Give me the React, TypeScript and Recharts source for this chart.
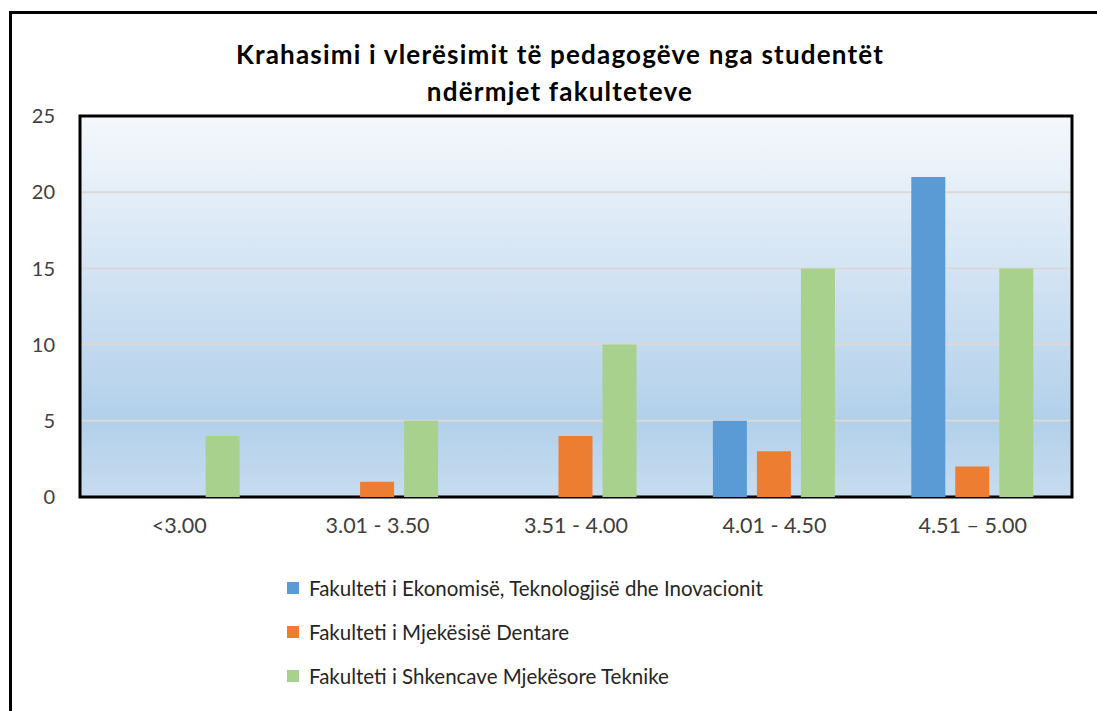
import React from "react";
import { BarChart, Bar, XAxis, YAxis, CartesianGrid, Legend, ReferenceArea } from "recharts";

const categories = ["<3.00", "3.01 - 3.50", "3.51 - 4.00", "4.01 - 4.50", "4.51 – 5.00"];
const ekonomiseValues = [0, 0, 0, 5, 21];
const dentareValues = [0, 1, 4, 3, 2];
const teknikeValues = [4, 5, 10, 15, 15];
const yTicks = [0, 5, 10, 15, 20, 25];
const seriesNames = [
  "Fakulteti i Ekonomisë, Teknologjisë dhe Inovacionit",
  "Fakulteti i Mjekësisë Dentare",
  "Fakulteti i Shkencave Mjekësore Teknike",
];
const seriesColors = ["#5b9bd5", "#ed7d31", "#a9d18e"];
const titleLines = ["Krahasimi i vlerësimit të pedagogëve nga studentët", "ndërmjet fakulteteve"];

const data = categories.map((c, i) => ({
  cat: c,
  s0: ekonomiseValues[i],
  s1: dentareValues[i],
  s2: teknikeValues[i],
}));

const FONT = "Lato, 'Open Sans', sans-serif";

const LegendContent = () => (
  <div style={{ fontFamily: FONT, fontSize: 20.5, color: "#262626" }}>
    {seriesNames.map((n, i) => (
      <div key={n} style={{ display: "flex", alignItems: "center", height: 44 }}>
        <span style={{ display: "inline-block", width: 12, height: 12, background: seriesColors[i], marginRight: 10 }} />
        <span>{n}</span>
      </div>
    ))}
  </div>
);

export default function App() {
  return (
    <div style={{ position: "absolute", left: 0, top: 0, width: 1097, height: 711, overflow: "hidden", background: "#fff" }}>
      <div style={{ position: "absolute", left: 9, top: 11, width: 1200, height: 800, border: "3px solid #000" }} />
      <div style={{ position: "absolute", left: 0, top: 36, width: 1120, textAlign: "center", fontFamily: FONT, fontWeight: 700, fontSize: 26, letterSpacing: 1.2, lineHeight: "37px", color: "#000" }}>
        {titleLines.map((t) => (
          <div key={t}>{t}</div>
        ))}
      </div>
      <div style={{ position: "absolute", left: 0, top: 0 }}>
        <BarChart
          width={1097}
          height={711}
          data={data}
          margin={{ top: 116, left: 30, right: 25, bottom: 174 }}
          barCategoryGap="19%"
          barGap={10}
        >
          <defs>
            <linearGradient id="bg" x1="0" y1="0" x2="0" y2="1">
              <stop offset="0%" stopColor="#f5f8fc" />
              <stop offset="80%" stopColor="#b2d0eb" />
              <stop offset="100%" stopColor="#c7dcef" />
            </linearGradient>
          </defs>
          <CartesianGrid vertical={false} fill="url(#bg)" stroke="#d9d9d9" strokeWidth={2} fillOpacity={1} />
          <XAxis
            dataKey="cat"
            height={40}
            axisLine={false}
            tickLine={false}
            tickSize={0}
            tickMargin={21}
            interval={0}
            tick={{ fill: "#404040", fontSize: 21.5, fontFamily: FONT }}
          />
          <YAxis
            width={50}
            domain={[0, 25]}
            ticks={yTicks}
            axisLine={false}
            tickLine={false}
            tickSize={0}
            tickMargin={25}
            tick={{ fill: "#404040", fontSize: 20, fontFamily: FONT }}
          />
          {seriesNames.map((n, i) => (
            <Bar key={n} dataKey={`s${i}`} name={n} fill={seriesColors[i]} isAnimationActive={false} />
          ))}
          <ReferenceArea y1={0} y2={25} fill="none" stroke="#000" strokeWidth={3} ifOverflow="visible" />
          <Legend
            layout="vertical"
            align="center"
            verticalAlign="middle"
            content={<LegendContent />}
            wrapperStyle={{ position: "absolute", left: 287, top: 566, width: 720, height: 140 }}
          />
        </BarChart>
      </div>
    </div>
  );
}
